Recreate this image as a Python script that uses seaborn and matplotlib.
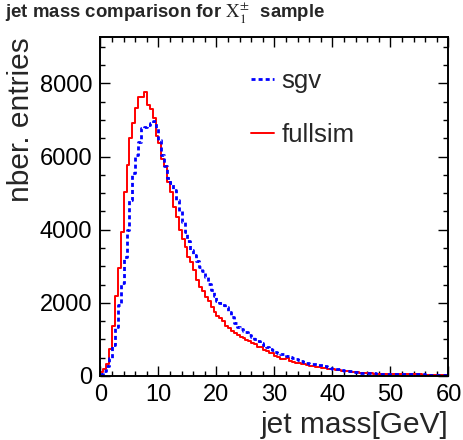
import numpy as np
import pandas as pd
import matplotlib
matplotlib.use("Agg")
import matplotlib.pyplot as plt
from matplotlib.ticker import MultipleLocator
from matplotlib.lines import Line2D
import seaborn as sns

# ---------------- data (bin contents, 0.5 GeV bins from 0 to 60) ----------------
bin_width = 0.5
mass_range = (0, 60)
bin_centers = np.arange(0.25, 60, 0.5)

fullsim = [
    100, 200, 340, 740, 1375, 2180, 2950, 3940, 5020, 5770,
    6510, 6920, 7330, 7625, 7625, 7770, 7420, 7310, 7055, 6570,
    6370, 5940, 5730, 5300, 5040, 4630, 4350, 4000, 3740, 3530,
    3250, 3115, 2887, 2612, 2447, 2318, 2153, 2062, 1897, 1741,
    1650, 1586, 1493, 1375, 1311, 1237, 1163, 1119, 1080, 1036,
    981, 960, 916, 871, 806, 790, 706, 690, 641, 620,
    550, 530, 458, 470, 500, 412, 390, 366, 345, 330,
    320, 300, 275, 262, 250, 238, 229, 215, 205, 198,
    185, 170, 160, 150, 137, 128, 118, 110, 100, 92,
    85, 80, 76, 72, 68, 65, 62, 60, 58, 56,
    54, 52, 50, 49, 48, 47, 46, 45, 44, 43,
    42, 41, 40, 39, 38, 37, 36, 35, 34, 33,
]

sgv = [
    50, 130, 260, 480, 850, 1350, 1950, 2550, 3250, 4000,
    4800, 5550, 6050, 6400, 6780, 6820, 6870, 6920, 6970, 6780,
    6450, 6030, 5740, 5420, 5280, 5080, 4800, 4500, 4220, 3940,
    3700, 3450, 3300, 3150, 2980, 2880, 2700, 2520, 2340, 2200,
    2062, 2000, 1940, 1878, 1750, 1600, 1450, 1330, 1290, 1240,
    1190, 1120, 1060, 1000, 962, 900, 840, 780, 740, 700,
    660, 641, 610, 596, 560, 520, 490, 458, 430, 400,
    385, 355, 339, 320, 320, 305, 290, 270, 248, 225,
    205, 183, 178, 165, 150, 137, 128, 115, 105, 92,
    88, 84, 80, 76, 72, 68, 65, 62, 60, 58,
    56, 54, 52, 50, 49, 48, 47, 46, 45, 44,
    43, 42, 41, 40, 39, 38, 37, 36, 35, 34,
]

series_labels = ["sgv", "fullsim"]
title_text = r"jet mass comparison for $\mathrm{X}_1^{\pm}$  sample"
x_label = "jet mass[GeV]"
y_label = "nber. entries"

df_full = pd.DataFrame({"mass": bin_centers, "entries": fullsim})
df_sgv = pd.DataFrame({"mass": bin_centers, "entries": sgv})

# ---------------- style ----------------
sns.set_style("ticks")
plt.rcParams["font.family"] = ["Liberation Sans", "DejaVu Sans"]
plt.rcParams["mathtext.fontset"] = "stix"

BLUE_DASH = (0, (1.45, 1.1))

fig = plt.figure(figsize=(4.64, 4.40), dpi=100)
ax = fig.add_axes([100.5 / 464, 1 - 376 / 440, 348 / 464, 339 / 440])

sns.histplot(data=df_full, x="mass", weights="entries",
             binwidth=bin_width, binrange=mass_range, element="step",
             fill=False, color="#ff0000", linewidth=1.4, ax=ax)
sns.histplot(data=df_sgv, x="mass", weights="entries",
             binwidth=bin_width, binrange=mass_range, element="step",
             fill=False, color="#0000ff", linewidth=2.0,
             linestyle=BLUE_DASH, ax=ax)

ax.set_xlim(0, 60)
ax.set_ylim(0, 9270)

ax.xaxis.set_major_locator(MultipleLocator(10))
ax.xaxis.set_minor_locator(MultipleLocator(2))
ax.yaxis.set_major_locator(MultipleLocator(2000))
ax.yaxis.set_minor_locator(MultipleLocator(500))
ax.tick_params(which="both", direction="in", top=True, right=True,
               colors="black", width=1.0)
ax.tick_params(which="major", length=7.2, labelsize=17, pad=6)
ax.tick_params(which="minor", length=3.6)
for s in ax.spines.values():
    s.set_linewidth(1.4)
    s.set_color("black")

ax.set_xlabel(x_label, fontsize=21.5, loc="right")
ax.xaxis.set_label_coords(1.0, -0.145)
ax.xaxis.label.set_va("center")
ax.set_ylabel(y_label, fontsize=21.5, loc="top")
ax.yaxis.set_label_coords(-0.228, 1.0)
ax.yaxis.label.set_va("center")

handles = [
    Line2D([], [], color="#0000ff", linewidth=2.0, linestyle=BLUE_DASH),
    Line2D([], [], color="#ff0000", linewidth=1.4),
]
ax.legend(handles, series_labels, loc="upper left",
          bbox_to_anchor=(0.4325, 0.905), frameon=False, fontsize=18.5,
          handlelength=0.88, handletextpad=0.3, labelspacing=1.16,
          borderpad=0, borderaxespad=0)

fig.text(0.011, 1 - 13 / 440, title_text, fontsize=13.4, fontweight="bold",
         ha="left", va="center")

fig.savefig("out.png", dpi=100)
